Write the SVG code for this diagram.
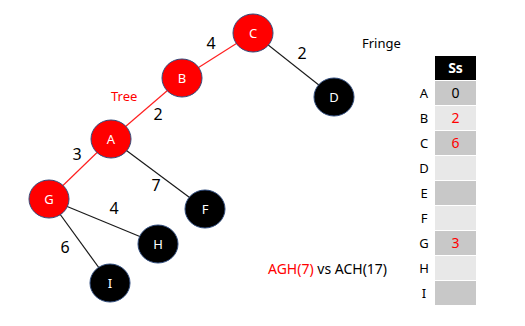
<svg xmlns="http://www.w3.org/2000/svg" width="525" height="326" viewBox="0 0 525 326">
<style>
.n ellipse{stroke:#2f4b7c;stroke-width:1}
.red ellipse{fill:#ff0000}
.blk ellipse{fill:#000000}
.n text{fill:#ffffff;font-family:"Noto Sans","Open Sans",sans-serif;font-size:13px;text-anchor:middle}
.e line{stroke-width:1.2}
.t{stroke:#ff2020}
.f{stroke:#1a1a1a}
.w{font-family:"Noto Sans","Open Sans",sans-serif;font-size:16px;fill:#000;text-anchor:middle}
.lbl{font-family:"Noto Sans","Open Sans",sans-serif;font-size:13px}
.rl{font-family:"Noto Sans","Open Sans",sans-serif;font-size:13px;fill:#000;text-anchor:middle}
.cv{font-family:"Noto Sans","Open Sans",sans-serif;font-size:14px;text-anchor:middle}
</style>
<rect width="525" height="326" fill="#ffffff"/>
<g id="connectors" class="e">
<line class="t" x1="253" y1="33" x2="182" y2="78"/>
<line class="t" x1="182" y1="78" x2="111" y2="139"/>
<line class="t" x1="111" y1="139" x2="49" y2="199"/>
<line class="f" x1="253" y1="33" x2="334" y2="97"/>
<line class="f" x1="111" y1="139" x2="205" y2="209"/>
<line class="f" x1="49" y1="199" x2="158" y2="244"/>
<line class="f" x1="49" y1="199" x2="110" y2="283"/>
</g>
<g id="edge-labels">
<text class="w" x="211" y="49">4</text>
<text class="w" x="302" y="59">2</text>
<text class="w" x="158" y="120">2</text>
<text class="w" x="77" y="160">3</text>
<text class="w" x="156" y="191">7</text>
<text class="w" x="114" y="214">4</text>
<text class="w" x="65" y="253">6</text>
</g>
<g id="node-C" class="n red"><ellipse cx="253" cy="33" rx="20" ry="19"/><text x="253" y="38">C</text></g>
<g id="node-B" class="n red"><ellipse cx="182" cy="78" rx="20" ry="19"/><text x="182" y="83">B</text></g>
<g id="node-A" class="n red"><ellipse cx="111" cy="139" rx="20" ry="19"/><text x="111" y="144">A</text></g>
<g id="node-G" class="n red"><ellipse cx="49" cy="199" rx="20" ry="19"/><text x="49" y="204">G</text></g>
<g id="node-D" class="n blk"><ellipse cx="334" cy="97" rx="20" ry="19"/><text x="334" y="102">D</text></g>
<g id="node-F" class="n blk"><ellipse cx="205" cy="209" rx="20" ry="19"/><text x="205" y="214">F</text></g>
<g id="node-H" class="n blk"><ellipse cx="158" cy="244" rx="20" ry="19"/><text x="158" y="249">H</text></g>
<g id="node-I" class="n blk"><ellipse cx="110" cy="283" rx="20" ry="19"/><text x="110" y="288">I</text></g>
<text class="lbl" x="111" y="101" fill="#ff0000">Tree</text>
<text class="lbl" x="362" y="48" fill="#000">Fringe</text>
<text x="268" y="274" font-family="Noto Sans,Open Sans,sans-serif" font-size="14"><tspan fill="#ff0000">AGH(7)</tspan><tspan fill="#000"> vs ACH(17)</tspan></text>
<g id="table">
<rect x="435" y="56" width="41" height="24" fill="#000"/>
<text x="455.5" y="73" font-family="Noto Sans,Open Sans,sans-serif" font-size="14" font-weight="bold" fill="#fff" text-anchor="middle">Ss</text>
<rect x="435" y="81" width="41" height="24" fill="#c8c8c8"/>
<rect x="435" y="106" width="41" height="24" fill="#e8e8e8"/>
<rect x="435" y="131" width="41" height="24" fill="#c8c8c8"/>
<rect x="435" y="156" width="41" height="24" fill="#e8e8e8"/>
<rect x="435" y="181" width="41" height="24" fill="#c8c8c8"/>
<rect x="435" y="206" width="41" height="24" fill="#e8e8e8"/>
<rect x="435" y="231" width="41" height="24" fill="#c8c8c8"/>
<rect x="435" y="256" width="41" height="24" fill="#e8e8e8"/>
<rect x="435" y="281" width="41" height="24" fill="#c8c8c8"/>
<text class="cv" x="455.5" y="98" fill="#000">0</text>
<text class="cv" x="455.5" y="123" fill="#ff0000">2</text>
<text class="cv" x="455.5" y="148" fill="#ff0000">6</text>
<text class="cv" x="455.5" y="248" fill="#ff0000">3</text>
<text class="rl" x="424" y="98">A</text>
<text class="rl" x="424" y="123">B</text>
<text class="rl" x="424" y="148">C</text>
<text class="rl" x="424" y="173">D</text>
<text class="rl" x="424" y="198">E</text>
<text class="rl" x="424" y="223">F</text>
<text class="rl" x="424" y="248">G</text>
<text class="rl" x="424" y="273">H</text>
<text class="rl" x="424" y="298">I</text>
</g>
</svg>
